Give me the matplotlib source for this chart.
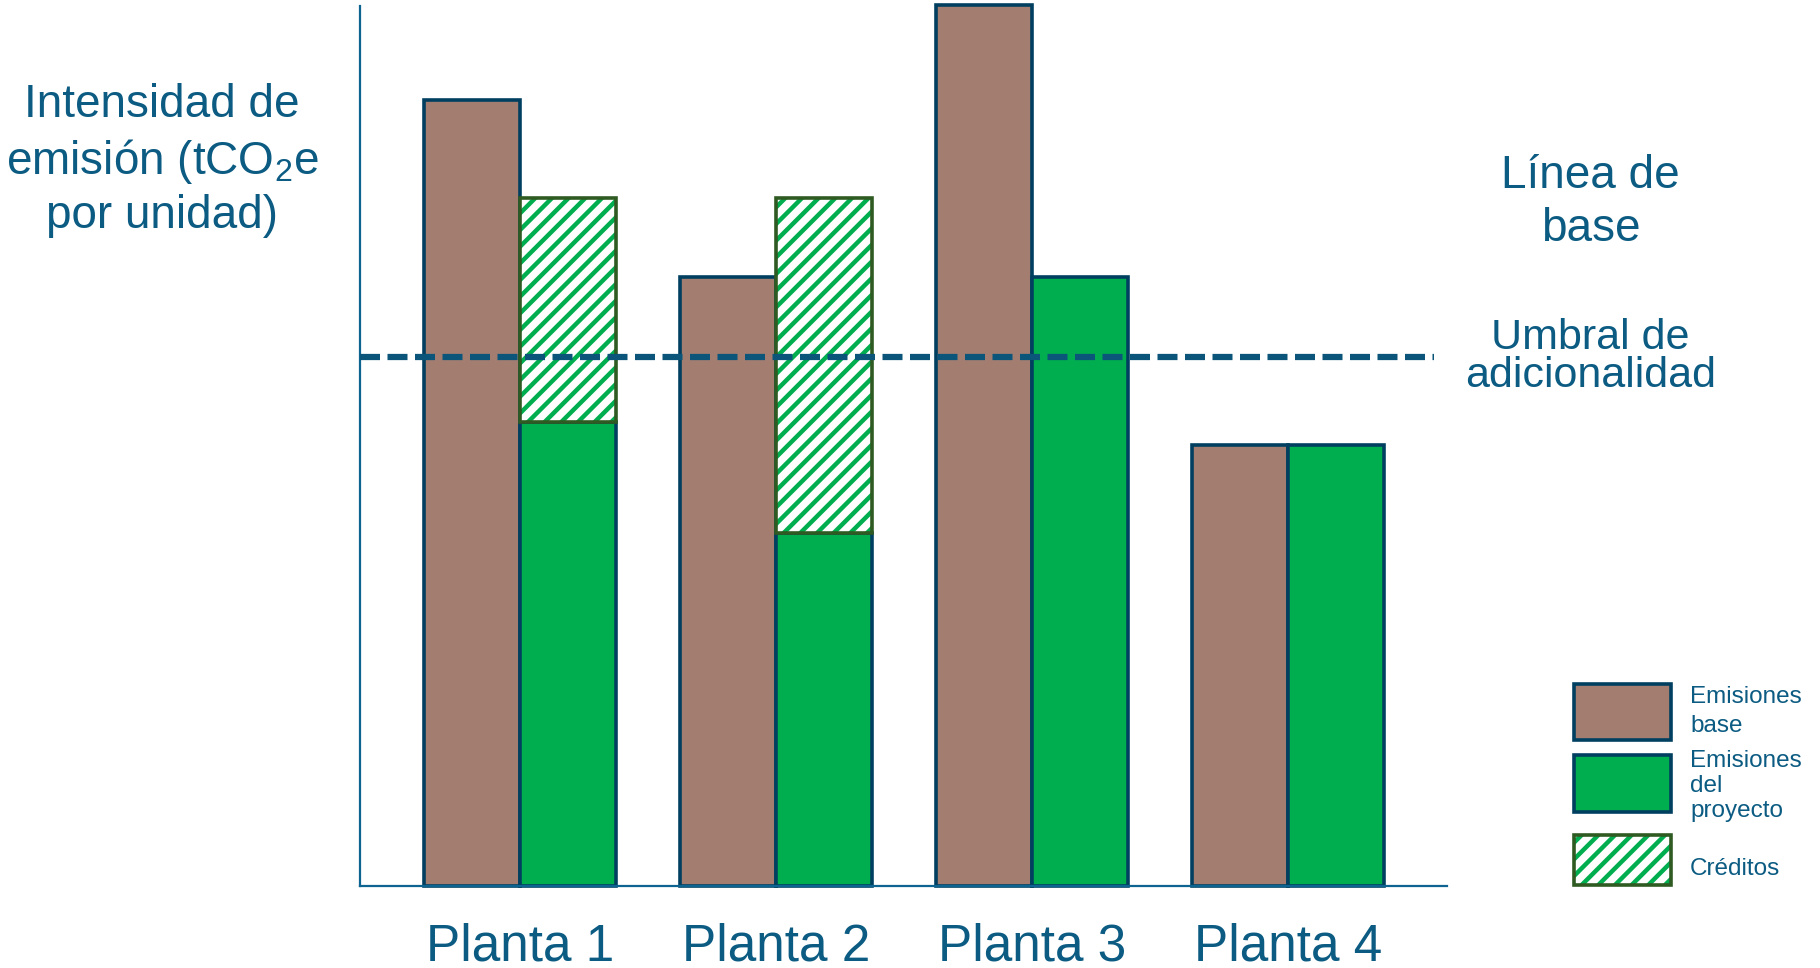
import numpy as np
import matplotlib.pyplot as plt
from matplotlib.patches import Rectangle

plt.rcParams['font.family'] = ['Liberation Sans', 'DejaVu Sans']
plt.rcParams['mathtext.fontset'] = 'custom'
plt.rcParams['mathtext.rm'] = 'Liberation Sans'
plt.rcParams['mathtext.it'] = 'Liberation Sans:italic'
plt.rcParams['hatch.linewidth'] = 3.2

# datos (unidades arbitrarias de intensidad)
plantas = ['Planta 1', 'Planta 2', 'Planta 3', 'Planta 4']
emis_base = [6.77, 5.25, 7.59, 3.80]
emis_proyecto = [4.00, 3.04, 5.25, 3.80]
creditos = [1.93, 2.89, 0.0, 0.0]
umbral = 4.56

# colores
c_base = '#a37e70'
c_proy = '#00ae4f'
c_edge = '#003f5f'
c_cred_edge = '#2f5a22'
c_text = '#0b5b82'
c_axis = '#0e6490'

fig = plt.figure(figsize=(18.2, 9.68), dpi=100)
ax = fig.add_axes([0.1978, 0.0847, 0.5973, 0.909])

x = np.arange(len(plantas))
w = 0.375

ax.bar(x - w / 2, emis_base, w, color=c_base, edgecolor=c_edge, linewidth=2.6, clip_on=False, zorder=2)
ax.bar(x + w / 2, emis_proyecto, w, color=c_proy, edgecolor=c_edge, linewidth=2.6, clip_on=False, zorder=2)

# creditos: rayas verdes sobre blanco, borde verde oscuro
cred = np.array(creditos)
m = cred > 0
ax.bar((x + w / 2)[m], cred[m], w, bottom=np.array(emis_proyecto)[m], color='white',
       edgecolor=c_proy, hatch='//', linewidth=0, zorder=2)
ax.bar((x + w / 2)[m], cred[m], w, bottom=np.array(emis_proyecto)[m], color='none',
       edgecolor=c_cred_edge, linewidth=2.6, zorder=3)

# umbral de adicionalidad
ax.axhline(umbral, xmin=0, xmax=0.988, color='#0a5579', lw=4.5, ls=(0, (3.2, 1.2)), zorder=4)

ax.set_xlim(-0.625, 3.621)
ax.set_ylim(0, 7.58)
for s in ['top', 'right']:
    ax.spines[s].set_visible(False)
for s in ['left', 'bottom']:
    ax.spines[s].set_color(c_axis)
    ax.spines[s].set_linewidth(1.6)
ax.set_yticks([])
ax.set_xticks(x)
ax.set_xticklabels(plantas, fontsize=37, color=c_text)
ax.tick_params(axis='x', length=0, pad=26)

# textos
fig.text(0.089, 0.834, 'Intensidad de\nemisión (tCO$_2$e\npor unidad)', ha='center', va='center',
         fontsize=33, color=c_text, linespacing=1.25)
fig.text(0.874, 0.791, 'Línea de\nbase', ha='center', va='center', fontsize=33, color=c_text,
         linespacing=1.25)
fig.text(0.874, 0.631, 'Umbral de\nadicionalidad', ha='center', va='center', fontsize=31,
         color=c_text, linespacing=0.95)

# leyenda manual
lx, lw_ = 0.8648, 0.0533
fig.add_artist(Rectangle((lx, 0.2355), lw_, 0.0579, transform=fig.transFigure,
                         facecolor=c_base, edgecolor=c_edge, lw=2.6))
fig.add_artist(Rectangle((lx, 0.1612), lw_, 0.0589, transform=fig.transFigure,
                         facecolor=c_proy, edgecolor=c_edge, lw=2.6))
fig.add_artist(Rectangle((lx, 0.0857), lw_, 0.0517, transform=fig.transFigure,
                         facecolor='white', edgecolor=c_proy, hatch='//', lw=0))
fig.add_artist(Rectangle((lx, 0.0857), lw_, 0.0517, transform=fig.transFigure,
                         facecolor='none', edgecolor=c_cred_edge, lw=2.6))
fig.text(0.9286, 0.2650, 'Emisiones\nbase', ha='left', va='center', fontsize=17.5,
         color=c_text, linespacing=1.45)
fig.text(0.9286, 0.188, 'Emisiones\ndel\nproyecto', ha='left', va='center', fontsize=17.5,
         color=c_text, linespacing=1.2)
fig.text(0.9286, 0.1023, 'Créditos', ha='left', va='center', fontsize=17.5, color=c_text)

fig.savefig('out.png', dpi=100)
